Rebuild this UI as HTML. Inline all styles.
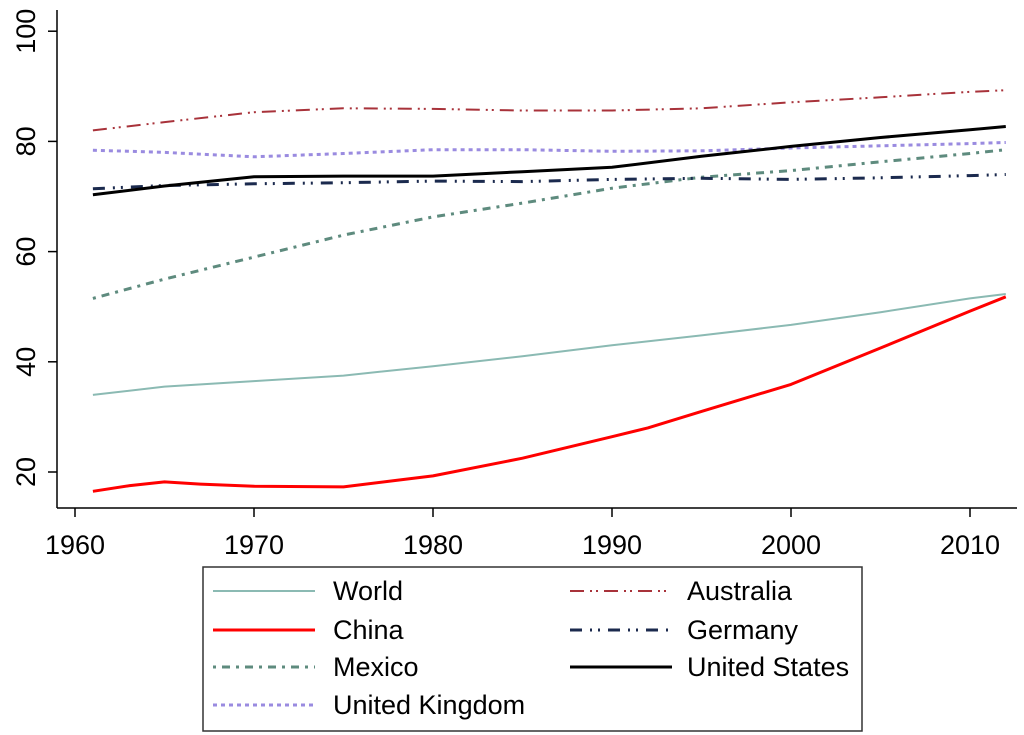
<!DOCTYPE html>
<html><head><meta charset="utf-8"><style>
body{margin:0;background:#fff;}
svg{display:block;font-family:"Liberation Sans",Arial,sans-serif;}
</style></head><body>
<svg id="chart" width="1024" height="735">
<g id="axes"></g><g id="series"></g>
<g>
<rect x="203" y="567" width="659" height="164" fill="#fff" stroke="#333" stroke-width="1.5"/>
<g id="legend"></g>
</g>
</svg>
<script>
const years=[1961,1965,1970,1975,1980,1985,1990,1995,2000,2005,2010,2012];
const world=[34,35.5,36.5,37.5,39.2,41,43,44.8,46.7,49,51.5,52.3];
const chinaYears=[1961,1963,1965,1967,1970,1975,1978,1980,1985,1990,1992,1995,2000,2005,2010,2012];
const china=[16.5,17.5,18.2,17.8,17.4,17.3,18.5,19.3,22.5,26.4,28,31,35.9,42.5,49.2,51.8];
const mexico=[51.5,55,59,63,66.3,68.8,71.5,73.5,74.7,76.3,77.8,78.5];
const uk=[78.4,78,77.2,77.8,78.5,78.5,78.2,78.3,78.8,79.2,79.6,79.8];
const australia=[82,83.5,85.3,86,85.9,85.6,85.6,86,87.1,88,89,89.3];
const germany=[71.4,72,72.3,72.5,72.8,72.7,73.1,73.3,73.1,73.4,73.8,74];
const us=[70.3,71.9,73.6,73.7,73.7,74.5,75.3,77.3,79.1,80.7,82.1,82.7];
const xTicks=[1960,1970,1980,1990,2000,2010];
const yTicks=[20,40,60,80,100];

const NS='http://www.w3.org/2000/svg';
const X=y=>75+(y-1960)*17.9;
const Y=v=>472-(v-20)*5.51;
function mk(tag,attrs,parent){const e=document.createElementNS(NS,tag);for(const k in attrs)e.setAttribute(k,attrs[k]);parent.appendChild(e);return e;}
const axes=document.getElementById('axes');
let a=mk('line',{x1:57,y1:10,x2:57,y2:508,stroke:'#000','stroke-width':1.5},axes);


a=mk('line',{x1:57,y1:508,x2:1017,y2:508,stroke:'#000','stroke-width':1.5},axes);


xTicks.forEach(t=>{
  mk('line',{x1:X(t),y1:508,x2:X(t),y2:517,stroke:'#000','stroke-width':1.5},axes);
  const tx=mk('text',{x:X(t),y:554,'text-anchor':'middle','font-size':27},axes);
  tx.textContent=t;
  
  
});
yTicks.forEach(t=>{
  mk('line',{x1:48,y1:Y(t),x2:57,y2:Y(t),stroke:'#000','stroke-width':1.5},axes);
  const tx=mk('text',{x:0,y:0,'text-anchor':'middle','font-size':27,transform:`translate(35,${Y(t)}) rotate(-90)`},axes);
  tx.textContent=t;
  
  
});
const seriesDefs=[
 {name:'World',xs:years,vals:world,color:'#8bbab3',w:2,dash:'',col:0,row:0},
 {name:'China',xs:chinaYears,vals:china,color:'#ff0000',w:3,dash:'',col:0,row:1},
 {name:'Mexico',xs:years,vals:mexico,color:'#5e8b7e',w:3,dash:'3 6 8 6',col:0,row:2},
 {name:'United Kingdom',xs:years,vals:uk,color:'#9a8be0',w:3,dash:'4 4',col:0,row:3},
 {name:'Australia',xs:years,vals:australia,color:'#a8323a',w:2,dash:'14 6 2 4 2 6',col:1,row:0},
 {name:'Germany',xs:years,vals:germany,color:'#1b2a4e',w:3,dash:'12 8 2 6 2 8',col:1,row:1},
 {name:'United States',xs:years,vals:us,color:'#000',w:3,dash:'',col:1,row:2}
];
const sg=document.getElementById('series'),lg=document.getElementById('legend');
const rowsY=[591,630,667,705];
seriesDefs.forEach(s=>{
  const d=s.vals.map((v,i)=>(i?'L':'M')+X(s.xs[i]).toFixed(1)+','+Y(v).toFixed(1)).join(' ');
  const p=mk('path',{d:d,fill:'none',stroke:s.color,'stroke-width':s.w,'stroke-dasharray':s.dash,'stroke-linejoin':'round'},sg);
  
  
  const x0=s.col?570:213, tx0=s.col?687:333, yy=rowsY[s.row];
  const g=mk('g',{},lg);
  
  
  mk('line',{x1:x0,y1:yy,x2:x0+102,y2:yy,stroke:s.color,'stroke-width':s.w,'stroke-dasharray':s.dash},g);
  const t=mk('text',{x:tx0,y:yy+9,'font-size':27},g);
  t.textContent=s.name;
});
</script>
</body></html>
